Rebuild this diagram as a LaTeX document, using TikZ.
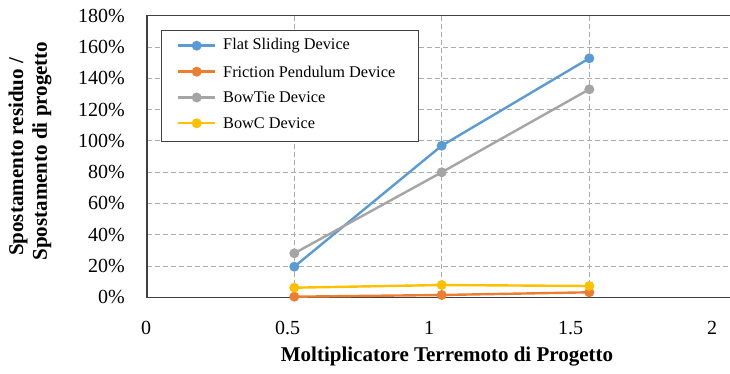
\documentclass[tikz,border=0pt]{standalone}
\usepackage{fontspec}
\setmainfont{Liberation Serif}
\definecolor{sblue}{HTML}{5B9BD5}
\definecolor{sorange}{HTML}{ED7D31}
\definecolor{sgrey}{HTML}{A5A5A5}
\definecolor{sgold}{HTML}{FFC000}
\definecolor{framec}{HTML}{404040}
\definecolor{gridc}{HTML}{ABABAB}
\begin{document}
\begin{tikzpicture}[x=1pt,y=-1pt,
  gridline/.style={draw=gridc,line width=0.9pt,dash pattern=on 5pt off 3pt},
  frameline/.style={draw=framec,line width=1.3pt},
  serline/.style={line width=2.4pt},
  marker/.style={circle,fill=#1,draw=none,minimum size=10pt,inner sep=0pt},
  ticklab/.style={font=\fontsize{20}{22}\selectfont,inner sep=0pt},
  legtext/.style={font=\fontsize{16.3}{18}\selectfont,anchor=west,inner sep=0pt},
  axtitle/.style={font=\fontsize{21}{24}\selectfont\bfseries,inner sep=0pt}]
\useasboundingbox (0,0) rectangle (730,374);
\fill[white] (0,0) rectangle (730,374);
% horizontal gridlines
\foreach \k in {1,...,8}{
  \draw[gridline] (147,{297.3-31.29*\k}) -- (730,{297.3-31.29*\k});
}
% vertical gridlines
\foreach \xx in {294.3,441.7,589.3}{
  \draw[gridline] (\xx,15.7) -- (\xx,297.3);
}
% frame
\draw[frameline] (730,15.7) -- (147,15.7) -- (147,297.3) -- (730,297.3);
% y tick labels
\foreach \k/\t in {0/0\%,1/20\%,2/40\%,3/60\%,4/80\%,5/100\%,6/120\%,7/140\%,8/160\%,9/180\%}{
  \node[ticklab,anchor=east] (yl\k) at (125,{297.3-31.29*\k}) {\t};
}
% x tick labels
\node[ticklab] (xl0) at (146,328) {0};
\node[ticklab] (xl1) at (287.5,328) {0.5};
\node[ticklab] (xl2) at (429,328) {1};
\node[ticklab] (xl3) at (570.5,328) {1.5};
\node[ticklab] (xl4) at (712,328) {2};
% axis titles
\node[axtitle] (xt) at (447,357) {Moltiplicatore Terremoto di Progetto};
\node[axtitle,rotate=90] (yt1) at (18,157) {Spostamento residuo /};
\node[axtitle,rotate=90] (yt2) at (42,151) {Spostamento di progetto};
% series: Flat Sliding (blue)
\coordinate (b1) at (294.3,266.7);
\coordinate (b2) at (441.7,145.7);
\coordinate (b3) at (589.3,58.3);
\draw[serline,sblue] (b1) -- (b2) -- (b3);
\foreach \p in {b1,b2,b3}{\node[marker=sblue] (m\p) at (\p) {};}
% Friction Pendulum (orange)
\coordinate (o1) at (294.3,296.7);
\coordinate (o2) at (441.7,295.0);
\coordinate (o3) at (589.3,292.3);
\draw[serline,sorange] (o1) -- (o2) -- (o3);
\foreach \p in {o1,o2,o3}{\node[marker=sorange] (m\p) at (\p) {};}
% BowTie (grey)
\coordinate (g1) at (294.3,253.3);
\coordinate (g2) at (441.7,172.3);
\coordinate (g3) at (589.3,89.3);
\draw[serline,sgrey] (g1) -- (g2) -- (g3);
\foreach \p in {g1,g2,g3}{\node[marker=sgrey] (m\p) at (\p) {};}
% BowC (gold)
\coordinate (y1) at (294.3,287.7);
\coordinate (y2) at (441.7,285.0);
\coordinate (y3) at (589.3,286.0);
\draw[serline,sgold] (y1) -- (y2) -- (y3);
\foreach \p in {y1,y2,y3}{\node[marker=sgold] (m\p) at (\p) {};}
% legend
\draw[draw=framec,line width=1pt,fill=white] (161.7,30.7) rectangle (418.3,141.7);
\foreach \c/\t/\yy/\n in {sblue/Flat Sliding Device/45.7/1,sorange/Friction Pendulum Device/71.7/2,sgrey/BowTie Device/97.5/3,sgold/BowC Device/123.3/4}{
  \coordinate (la\n) at (178,\yy);
  \coordinate (lb\n) at (215,\yy);
  \draw[serline,\c] (la\n) -- (lb\n);
  \node[marker=\c] (lm\n) at (196.7,\yy) {};
  \node[legtext] (lt\n) at (223,\yy) {\t};
}
\end{tikzpicture}
\end{document}
